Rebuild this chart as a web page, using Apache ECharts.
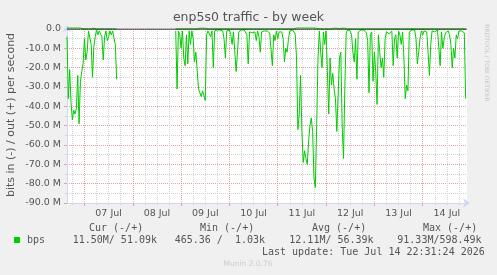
<!DOCTYPE html>
<html>
<head>
<meta charset="utf-8">
<script src="https://cdn.jsdelivr.net/npm/echarts@6/dist/echarts.min.js"></script>
<style>
html,body{margin:0;padding:0;background:#f0f0f0;}
#c{width:497px;height:275px;}
</style>
</head>
<body>
<div id="c"></div>
<script>
// Sampling: first sample 06 Jul 15:20, one sample every 40 minutes
const START_DAY = 6;
const START_MIN = 15 * 60 + 20;
const STEP_MIN = 40;

// bits in (M bits/s), drawn negative
const inValues = [
  -4, -36, -21, -38, -47, -42, -44, -41, -24, -49,
  -27, -22, -18, -5, -16, -12, -1, -0.5, -8, -25,
  -9, -4, -0.5, -3, -1, -0.5, -4, -16, -4, -1,
  -6, -4, -1, -3, -1, -2, -8, -26,
  null, null, null, null, null, null, null, null, null, null,
  null, null, null, null, null, null, null, null, null, null,
  null, null, null, null, null, null, null, null, null, null,
  null, null, null, null, null, null, null, null, null, null,
  null, null, null,
  -1, -31, -1, -3, -10, -1, -15, -19, -3, -18,
  -1, -8, -1, -5, -17, -12, -13, -31,
  -31, -35, -32, -31, -37, -3, -1, -0.5, -4, -1,
  -20, -1, -2, -0.5, -1, -0.5, -1, -1, -5, -15,
  -1, -0.5, -0.5, -3, -8, -1.5, -2, -22, -12, -1.5,
  -1, -0.5, -0.5, -0.5, -1, -3, -18, -1.5, -1, -2,
  -3, -1.5, -6, -1, -4, -12, -1.5, -2, -1, -2,
  -1, -1.5, -2, -3, -19, -3, -6, -1, -5, -1.5,
  -1, -1.5, -5, -17, -10, -12, -5, -1, -0.5, -0.5,
  -1, -2.5, -15, -52, -44, -24, -53, -69, -63, -67,
  -70, -58, -50, -46, -53, -77, -82, -50, -15, -1,
  -12, -20, -1.5, -8, -1, -22, -44, -15, -29, -23,
  -31, -36, -53, -53, -15, -12, -50, -67, -30, -2,
  -0.5, -0.5, -1, -3, -12, -17, -5, -26, -1.5, -0.5,
  -0.5, -0.5, -0.5, -0.5, -2, -6, -33, -3, -1.5, -27,
  -12, -22, -39, -3, -12, -20, -15, -25, -5, -1.5,
  -1, -2.5, -2, -1, -19, -5, -3, -15, -1, -3,
  -8, -1.5, -15, -36, -29, -32, -1.5, -1, -0.5, -0.5,
  -0.5, -5, -18, -12, -5, -1, -3, -1, -0.5, -1.5,
  -12, -24, -8, -1, -0.5, -1.5, -1, -0.5, -1.5, -19,
  -1.5, -10, -5, -2, -1, -1, -3, -8, -20, -10,
  -15, -3, -5, -1, -1.5, -1, -1.5, -2, -36, null
];

// bits out (M bits/s), drawn positive
const outValues = [
  0.5, 0.5, 0.5, 0.5, 0.5, 0.5, 0.5, 0.5, 0.5, 0.5, 0.5,
  0.1, 0.1, 0.1, 0.1, 0.1, 0.1, 0.1, 0.1,
  0.4, 0.4, 0.4,
  0.05, 0.05, 0.05, 0.05, 0.05, 0.05, 0.05, 0.05, 0.05, 0.05, 0.05, 0.05, 0.05, 0.05, 0.05, 0.05,
  null, null, null, null, null, null, null, null, null, null,
  null, null, null, null, null, null, null, null, null, null,
  null, null, null, null, null, null, null, null, null, null,
  null, null, null, null, null, null, null, null, null, null,
  null, null, null,
  0.05, 0.05, 0.05, 0.05, 0.05, 0.05, 0.05, 0.05, 0.05, 0.05, 0.05, 0.05, 0.05, 0.05, 0.05, 0.05, 0.05, 0.05,
  0.4, 0.4, 0.4, 0.4, 0.4,
  0.05, 0.05, 0.05, 0.05, 0.05, 0.05, 0.05, 0.05, 0.05, 0.05,
  0.05, 0.05, 0.05, 0.05, 0.05, 0.05, 0.05, 0.05, 0.05, 0.05,
  0.05, 0.05, 0.05, 0.05, 0.05, 0.05, 0.05, 0.05, 0.05, 0.05,
  0.05, 0.05, 0.05, 0.05, 0.05, 0.05, 0.05, 0.05, 0.05, 0.05,
  0.05, 0.05, 0.05, 0.05, 0.05, 0.05, 0.05, 0.05, 0.05, 0.05,
  0.05, 0.05, 0.05, 0.05, 0.05, 0.05, 0.05, 0.05, 0.05, 0.05,
  0.05, 0.05, 0.05, 0.05, 0.05, 0.05, 0.05,
  0.5, 0.5, 0.5, 0.5, 0.5, 0.5, 0.5, 0.5, 0.5, 0.5, 0.5, 0.5, 0.5, 0.5, 0.5, 0.5,
  0.1, 0.1, 0.1, 0.1, 0.1, 0.1, 0.1, 0.1, 0.1, 0.1, 0.1, 0.1,
  0.4, 0.4, 0.4, 0.4,
  0.1, 0.1,
  0.4, 0.4, 0.4,
  0.05, 0.05, 0.05, 0.05, 0.05, 0.05, 0.05, 0.05, 0.05, 0.05,
  0.05, 0.05, 0.05, 0.05, 0.05, 0.05, 0.05, 0.05, 0.05, 0.05,
  0.05, 0.05, 0.05, 0.05, 0.05, 0.05, 0.05, 0.05, 0.05, 0.05,
  0.05, 0.05, 0.05, 0.05, 0.05, 0.05, 0.05, 0.05, 0.05, 0.05,
  0.05, 0.05, 0.05, 0.05, 0.05, 0.05, 0.05, 0.05, 0.05, 0.05,
  0.05, 0.05, 0.05, 0.05, 0.05, 0.05, 0.05, 0.05, 0.05, 0.05,
  0.05, 0.05, 0.05, 0.05, 0.05, 0.05, 0.05, 0.05, 0.05, 0.05,
  0.05, 0.05, 0.05, 0.05, 0.05, 0.05, 0.05, 0.05, 0.05, 0.05,
  0.05, 0.05, 0.05, 0.05, 0.05, 0.05, 0.05, 0.05, 0.05, 0.05,
  null
];

const legendHeaders = ['Cur (-/+)', 'Min (-/+)', 'Avg (-/+)', 'Max (-/+)'];
const legendValues = ['11.50M/ 51.09k', '465.36 /  1.03k', '12.11M/ 56.39k', '91.33M/598.49k'];
const lastUpdate = 'Last update: Tue Jul 14 22:31:24 2026';

function pad(n) { return (n < 10 ? '0' : '') + n; }
const categories = inValues.map(function (_, i) {
  const t = START_MIN + i * STEP_MIN;
  const d = START_DAY + Math.floor(t / 1440);
  const m = t % 1440;
  return pad(d) + ' Jul ' + pad(Math.floor(m / 60)) + ':' + pad(m % 60);
});
const zeroLine = categories.map(function () { return 0; });

function minuteOf(label) {
  const hm = label.slice(7);
  return parseInt(hm.slice(0, 2), 10) * 60 + parseInt(hm.slice(3, 5), 10);
}
const isMidnight = function (idx, v) { return minuteOf(v) === 0; };
const isNoon = function (idx, v) { return minuteOf(v) === 720; };
const isSixHour = function (idx, v) { const m = minuteOf(v); return m % 360 === 0 && m !== 0; };

const FONT = '"DejaVu Sans", sans-serif';
const MONO = '"DejaVu Sans Mono", monospace';
const TXT = '#555555';
const AXIS = '#CFD6F8';
const MGRID = '#e3a3a3';
const GRID = '#d2d2d2';
const GREEN = '#00cc00';

const chart = echarts.init(document.getElementById('c'), null, { renderer: 'canvas' });

const graphics = [
  { type: 'text', x: 11, y: 115, rotation: Math.PI / 2,
    style: { text: 'bits in (-) / out (+) per second', font: '11px ' + FONT, fill: TXT,
             textAlign: 'center', textVerticalAlign: 'middle', align: 'center', verticalAlign: 'middle' } },
  { type: 'text', x: 487, y: 63, rotation: -Math.PI / 2,
    style: { text: 'RRDTOOL / TOBI OETIKER', font: '6px ' + FONT, fill: '#c8c8c8',
             textAlign: 'center', textVerticalAlign: 'middle', align: 'center', verticalAlign: 'middle' } },
  { type: 'rect', shape: { x: 14, y: 237, width: 6, height: 6 }, style: { fill: GREEN } },
  { type: 'text', x: 27, y: 240,
    style: { text: 'bps', font: '10px ' + MONO, fill: TXT, textAlign: 'left', textVerticalAlign: 'middle', align: 'left', verticalAlign: 'middle' } },
  { type: 'text', x: 262, y: 252,
    style: { text: lastUpdate, font: '10px ' + MONO, fill: TXT, textAlign: 'left', textVerticalAlign: 'middle', align: 'left', verticalAlign: 'middle' } },
  { type: 'text', x: 248, y: 264,
    style: { text: 'Munin 2.0.76', font: '7.5px ' + FONT, fill: '#cccccc', textAlign: 'center', textVerticalAlign: 'middle', align: 'center', verticalAlign: 'middle' } }
];
const headerX = [89, 200, 312, 423];
const valueX = [72.7, 174.7, 289.3, 397.3];
legendHeaders.forEach(function (h, k) {
  graphics.push({ type: 'text', x: headerX[k], y: 228,
    style: { text: h, font: '10px ' + MONO, fill: TXT, textAlign: 'left', textVerticalAlign: 'middle', align: 'left', verticalAlign: 'middle' } });
});
legendValues.forEach(function (v, k) {
  graphics.push({ type: 'text', x: valueX[k], y: 240,
    style: { text: v, font: '10px ' + MONO, fill: TXT, textAlign: 'left', textVerticalAlign: 'middle', align: 'left', verticalAlign: 'middle' } });
});

chart.setOption({
  animation: false,
  backgroundColor: '#f0f0f0',
  title: {
    text: 'enp5s0 traffic - by week', left: 'center', top: 11, padding: 0,
    textStyle: { fontFamily: FONT, fontSize: 12.5, fontWeight: 'normal', color: TXT }
  },
  grid: { left: 67, right: 30, top: 29, bottom: 72, show: true, backgroundColor: '#ffffff', borderWidth: 0 },
  xAxis: [
    {
      type: 'category', data: categories, boundaryGap: false,
      axisLine: { show: true, onZero: false, lineStyle: { color: AXIS, width: 1 },
                  symbol: ['none', 'arrow'], symbolSize: [7, 7], symbolOffset: [0, 3] },
      axisTick: { show: true, interval: isMidnight, length: 3, lineStyle: { color: MGRID } },
      axisLabel: { show: true, interval: isNoon, margin: 6, color: TXT, fontFamily: FONT, fontSize: 9.5,
                   formatter: function (v) { return v.slice(0, 6); } },
      splitLine: { show: true, interval: isMidnight, lineStyle: { color: MGRID, type: [1, 1], width: 1 } }
    },
    {
      type: 'category', data: categories, boundaryGap: false, position: 'bottom',
      axisLine: { show: false, onZero: false },
      axisTick: { show: true, interval: isSixHour, length: 2, lineStyle: { color: GRID } },
      axisLabel: { show: false },
      splitLine: { show: true, interval: isSixHour, lineStyle: { color: GRID, type: [1, 1], width: 1 } }
    }
  ],
  yAxis: {
    type: 'value', min: -90, max: 0, interval: 10,
    axisLine: { show: true, lineStyle: { color: AXIS, width: 1 },
                symbol: ['none', 'arrow'], symbolSize: [7, 7], symbolOffset: [0, 4] },
    axisTick: { show: true, length: 3, lineStyle: { color: MGRID } },
    minorTick: { show: true, splitNumber: 2, length: 2, lineStyle: { color: GRID } },
    axisLabel: { margin: 6, color: TXT, fontFamily: FONT, fontSize: 9.5,
                 formatter: function (v) { return v === 0 ? '0.0' : v.toFixed(1) + ' M'; } },
    splitLine: { show: true, lineStyle: { color: MGRID, type: [1, 1], width: 1 } },
    minorSplitLine: { show: true, lineStyle: { color: GRID, type: [1, 1], width: 1 } }
  },
  series: [
    { name: 'out', type: 'line', data: outValues, symbol: 'none', clip: false, z: 2,
      lineStyle: { color: GREEN, width: 1 }, itemStyle: { color: GREEN }, silent: true },
    { name: 'in', type: 'line', data: inValues, symbol: 'none', z: 3,
      lineStyle: { color: GREEN, width: 1 }, itemStyle: { color: GREEN }, silent: true },
    { name: 'zero', type: 'line', data: zeroLine, symbol: 'none', z: 4,
      lineStyle: { color: '#000000', width: 1 }, itemStyle: { color: '#000000' }, silent: true }
  ],
  graphic: graphics
});
</script>
</body>
</html>
